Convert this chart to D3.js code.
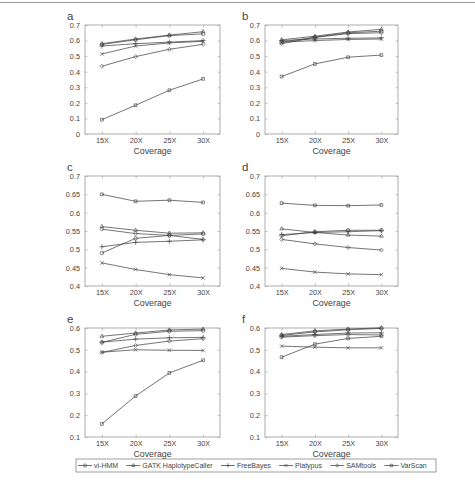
<!DOCTYPE html>
<html>
<head>
<meta charset="utf-8">
<script src="https://cdn.jsdelivr.net/npm/d3@7"></script>
<style>
  body { margin: 0; background: #fff; }
  text { font-family: "Liberation Sans", Arial, sans-serif; fill: #444; }
</style>
</head>
<body>
<div id="chart"></div>
<script>
const WIDTH = 475;
const HEIGHT = 481;

// coverage levels on the x axis
const coverages = ['15X', '20X', '25X', '30X'];
const tools = ['vi-HMM', 'GATK HaplotypeCaller', 'FreeBayes', 'Platypus', 'SAMtools', 'VarScan'];

// values per panel, one row per tool (same order as tools)
const panelA = [
  [0.575, 0.605, 0.632, 0.643],
  [0.580, 0.610, 0.635, 0.657],
  [0.565, 0.580, 0.590, 0.600],
  [0.514, 0.565, 0.585, 0.595],
  [0.435, 0.497, 0.544, 0.576],
  [0.092, 0.185, 0.281, 0.354]
];
const panelB = [
  [0.590, 0.622, 0.650, 0.660],
  [0.605, 0.628, 0.655, 0.672],
  [0.600, 0.610, 0.615, 0.617],
  [0.590, 0.600, 0.607, 0.610],
  [0.580, 0.620, 0.645, 0.650],
  [0.369, 0.450, 0.493, 0.507]
];
const panelC = [
  [0.490, 0.530, 0.538, 0.542],
  [0.562, 0.552, 0.544, 0.545],
  [0.507, 0.519, 0.522, 0.526],
  [0.463, 0.445, 0.431, 0.422],
  [0.555, 0.543, 0.538, 0.527],
  [0.650, 0.631, 0.634, 0.628]
];
const panelD = [
  [0.537, 0.548, 0.552, 0.552],
  [0.556, 0.546, 0.539, 0.536],
  [0.540, 0.546, 0.548, 0.551],
  [0.448, 0.438, 0.433, 0.431],
  [0.527, 0.515, 0.505, 0.498],
  [0.626, 0.620, 0.619, 0.621]
];
const panelE = [
  [0.534, 0.571, 0.585, 0.588],
  [0.562, 0.577, 0.591, 0.595],
  [0.535, 0.549, 0.555, 0.557],
  [0.489, 0.500, 0.498, 0.497],
  [0.488, 0.520, 0.540, 0.551],
  [0.160, 0.288, 0.394, 0.452]
];
const panelF = [
  [0.566, 0.582, 0.592, 0.598],
  [0.570, 0.587, 0.595, 0.601],
  [0.562, 0.570, 0.577, 0.578],
  [0.517, 0.512, 0.509, 0.509],
  [0.558, 0.565, 0.570, 0.568],
  [0.466, 0.526, 0.552, 0.562]
];

// y ticks for each row of panels
const ticksTop = [0, 0.1, 0.2, 0.3, 0.4, 0.5, 0.6, 0.7];
const ticksMid = [0.4, 0.45, 0.5, 0.55, 0.6, 0.65, 0.7];
const ticksBot = [0.1, 0.2, 0.3, 0.4, 0.5, 0.6];

const LINE_COLOR = '#3a3a3a';
const BOX_COLOR = '#9a9a9a';
const symbols = [d3.symbolCircle, d3.symbolTriangle2, d3.symbolPlus, d3.symbolX, d3.symbolDiamond2, d3.symbolSquare2];

const svg = d3.select('#chart').append('svg')
  .attr('width', WIDTH)
  .attr('height', HEIGHT);

// thin rule across the top
svg.append('line')
  .attr('x1', 0).attr('x2', WIDTH)
  .attr('y1', 2.5).attr('y2', 2.5)
  .attr('stroke', '#999').attr('stroke-width', 1);

const cols = [[85, 220], [265, 398]];
const rows = [[25, 134], [176, 286], [328, 437]];

const panels = [
  {label: 'a', data: panelA, ticks: ticksTop, col: 0, row: 0},
  {label: 'b', data: panelB, ticks: ticksTop, col: 1, row: 0},
  {label: 'c', data: panelC, ticks: ticksMid, col: 0, row: 1},
  {label: 'd', data: panelD, ticks: ticksMid, col: 1, row: 1},
  {label: 'e', data: panelE, ticks: ticksBot, col: 0, row: 2},
  {label: 'f', data: panelF, ticks: ticksBot, col: 1, row: 2}
];

panels.forEach(p => drawPanel(p));

function drawPanel(p) {
  const [x0, x1] = cols[p.col];
  const [y0, y1] = rows[p.row];

  const x = d3.scalePoint().domain(coverages).range([x0, x1]).padding(0.5);
  const y = d3.scaleLinear()
    .domain([d3.min(p.ticks), d3.max(p.ticks)])
    .range([y1, y0]);

  const g = svg.append('g');

  // box
  g.append('rect')
    .attr('x', x0).attr('y', y0)
    .attr('width', x1 - x0).attr('height', y1 - y0)
    .attr('fill', 'none').attr('stroke', BOX_COLOR).attr('stroke-width', 0.8);

  // inward ticks, all sides
  const xAxis = d3.axisBottom(x).tickSizeInner(-2.5).tickSizeOuter(0).tickPadding(4);
  const xg = g.append('g').attr('transform', 'translate(0,' + y1 + ')').call(xAxis);
  const xTop = g.append('g').attr('transform', 'translate(0,' + y0 + ')')
    .call(d3.axisTop(x).tickSizeInner(-2.5).tickSizeOuter(0).tickFormat(''));
  const yAxis = d3.axisLeft(y).tickValues(p.ticks).tickSizeInner(-2.5).tickSizeOuter(0)
    .tickPadding(5).tickFormat(d => +d.toFixed(2));
  const yg = g.append('g').attr('transform', 'translate(' + x0 + ',0)').call(yAxis);
  const yRight = g.append('g').attr('transform', 'translate(' + x1 + ',0)')
    .call(d3.axisRight(y).tickValues(p.ticks).tickSizeInner(-2.5).tickSizeOuter(0).tickFormat(''));

  [xg, xTop, yg, yRight].forEach(a => {
    a.select('.domain').remove();
    a.selectAll('line').attr('stroke', BOX_COLOR).attr('stroke-width', 0.6);
    a.selectAll('text').attr('font-size', 7.3).attr('fill', '#444')
      .attr('font-family', '"Liberation Sans", Arial, sans-serif');
  });

  g.append('text')
    .attr('x', (x0 + x1) / 2)
    .attr('y', y1 + 20)
    .attr('text-anchor', 'middle')
    .attr('font-size', 8.8)
    .text('Coverage');

  g.append('text')
    .attr('x', p.col === 0 ? 67 : 242)
    .attr('y', y0 - 5)
    .attr('font-size', 11.5)
    .attr('fill', '#222')
    .text(p.label);

  const line = d3.line().x((d, i) => x(coverages[i])).y(d => y(d));

  p.data.forEach((vals, s) => {
    g.append('path')
      .attr('d', line(vals))
      .attr('fill', 'none')
      .attr('stroke', LINE_COLOR)
      .attr('stroke-width', 0.7);
    g.selectAll(null)
      .data(vals)
      .enter()
      .append('path')
      .attr('transform', (d, i) => 'translate(' + x(coverages[i]) + ',' + y(d) + ')')
      .attr('d', d3.symbol().type(symbols[s]).size(10))
      .attr('fill', 'none')
      .attr('stroke', LINE_COLOR)
      .attr('stroke-width', 0.6);
  });
}

// legend: items laid out left to right, spread to fill the box
const LEG_X0 = 76, LEG_X1 = 436, LEG_Y = 459, LEG_H = 13;
const SEG = 14;
const legend = svg.append('g');
legend.append('rect')
  .attr('x', LEG_X0).attr('y', LEG_Y)
  .attr('width', LEG_X1 - LEG_X0).attr('height', LEG_H)
  .attr('fill', '#fff').attr('stroke', '#777').attr('stroke-width', 0.7);

const items = tools.map(t => {
  const txt = legend.append('text')
    .attr('y', LEG_Y + 9.3)
    .attr('font-size', 7)
    .attr('fill', '#333')
    .text(t);
  return {t: t, txt: txt, w: txt.node().getComputedTextLength()};
});
const used = d3.sum(items, d => d.w + SEG + 2);
const gap = (LEG_X1 - LEG_X0 - 3 - used) / tools.length;
let cx = LEG_X0 + 2;
items.forEach((it, i) => {
  const cy = LEG_Y + LEG_H / 2;
  legend.append('line')
    .attr('x1', cx).attr('x2', cx + SEG)
    .attr('y1', cy).attr('y2', cy)
    .attr('stroke', LINE_COLOR).attr('stroke-width', 0.7);
  legend.append('path')
    .attr('transform', 'translate(' + (cx + SEG / 2) + ',' + cy + ')')
    .attr('d', d3.symbol().type(symbols[i]).size(8))
    .attr('fill', 'none').attr('stroke', LINE_COLOR).attr('stroke-width', 0.6);
  it.txt.attr('x', cx + SEG + 2);
  cx += SEG + 2 + it.w + gap;
});
</script>
</body>
</html>
